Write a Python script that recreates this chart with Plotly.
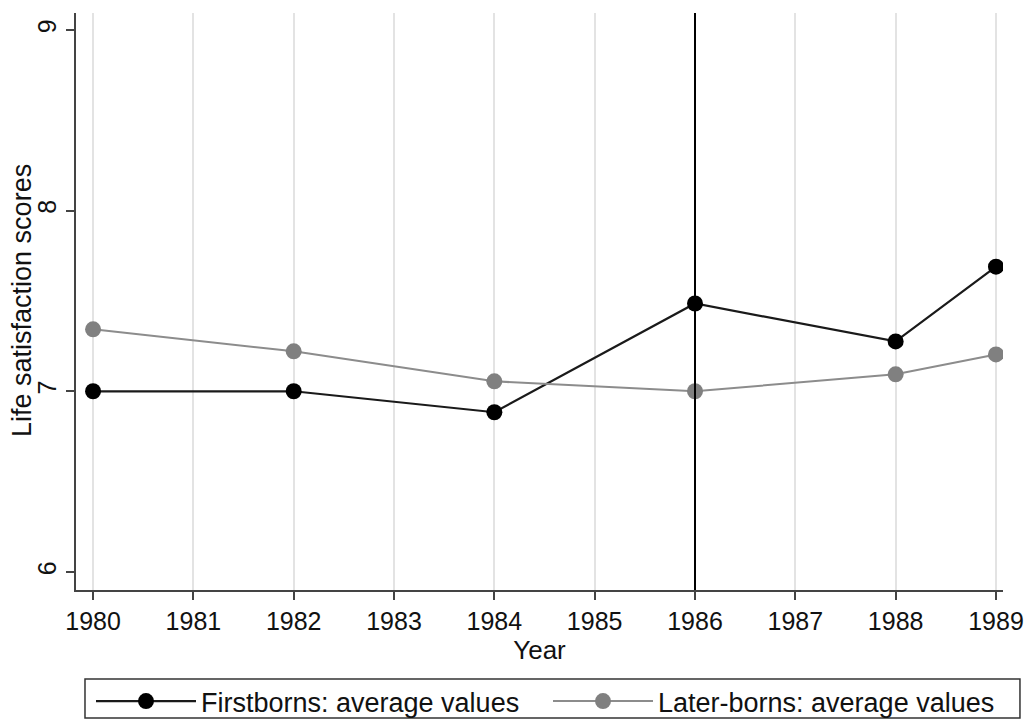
import plotly.graph_objects as go

years = [1980, 1982, 1984, 1986, 1988, 1989]
firstborns = [7.0, 7.0, 6.884, 7.486, 7.276, 7.69]
laterborns = [7.343, 7.221, 7.055, 7.0, 7.094, 7.204]
x_ticks = list(range(1980, 1990))
y_ticks = [6, 7, 8, 9]
event_year = 1986
y_title = "Life satisfaction scores"

FONT = "Liberation Sans, Arial, sans-serif"
W, H = 1027, 722

fig = go.Figure()
fig.add_trace(go.Scatter(
    x=years, y=firstborns, mode="lines+markers",
    name="Firstborns: average values",
    line=dict(color="#1a1a1a", width=2.2),
    marker=dict(color="black", size=16),
))
fig.add_trace(go.Scatter(
    x=years, y=laterborns, mode="lines+markers",
    name="Later-borns: average values",
    line=dict(color="#8c8c8c", width=2),
    marker=dict(color="#808080", size=16),
))
fig.add_vline(x=event_year, line=dict(color="black", width=2))

# legend frame
fig.add_shape(type="rect", xref="paper", yref="paper",
              x0=0.0097, x1=1.0183, y0=-0.2218, y1=-0.1542,
              line=dict(color="#333", width=1.5), fillcolor="rgba(0,0,0,0)",
              layer="above")

# y-axis title
fig.add_annotation(text=y_title, xref="paper", yref="paper",
                   x=(22 - 76) / 927, y=0.5009, xanchor="center", yanchor="middle",
                   textangle=-90, showarrow=False, font=dict(size=27, color="#111"))

fig.update_layout(
    width=W, height=H,
    paper_bgcolor="white", plot_bgcolor="white",
    margin=dict(l=76, r=24, t=13, b=132, autoexpand=False),
    font=dict(family=FONT, size=25, color="#111"),
    showlegend=True,
    legend=dict(
        orientation="h", x=91 / W, y=1 - 677 / H,
        xref="container", yref="container",
        xanchor="left", yanchor="top",
        borderwidth=0, bgcolor="rgba(0,0,0,0)", font=dict(size=27),
        itemwidth=100, entrywidthmode="pixels", entrywidth=342,
    ),
)
fig.update_xaxes(
    range=[1979.83, 1989.07], tickvals=x_ticks, ticktext=[str(t) for t in x_ticks],
    showgrid=True, gridcolor="#e3e3e3", gridwidth=2,
    showline=True, linecolor="#444", linewidth=2,
    ticks="outside", ticklen=8, tickcolor="#444", tickwidth=1.5,
    tickfont=dict(size=25),
    title=dict(text="Year", font=dict(size=26), standoff=2),
    zeroline=False, automargin=False,
)
fig.update_yaxes(
    range=[5.9, 9.094], tickvals=y_ticks, ticktext=[str(t) for t in y_ticks],
    tickangle=-90, showgrid=False,
    showline=True, linecolor="#444", linewidth=2,
    ticks="outside", ticklen=8, tickcolor="#444", tickwidth=1.5,
    tickfont=dict(size=25),
    zeroline=False, automargin=False,
)

fig.write_html(
    "out.html",
    config={"displayModeBar": False},
    post_script="document.body.style.margin='0';document.documentElement.style.overflow='hidden';",
)
